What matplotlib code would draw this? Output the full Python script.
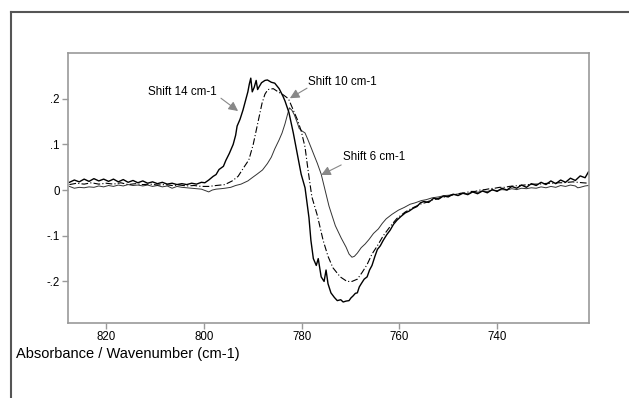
import matplotlib
matplotlib.use("Agg")
import matplotlib.pyplot as plt
from matplotlib.lines import Line2D

plt.rcParams['font.family'] = ['Liberation Sans', 'DejaVu Sans']

# Shift 14 cm-1 (thick solid)
wn_14 = [827.5, 826.5, 825.5, 824.5, 823.5, 822.5, 821.5, 820.5, 819.5, 818.5,
         817.5, 816.5, 815.5, 814.5, 813.5, 812.5, 811.5, 810.5, 809.5, 808.5,
         807.5, 806.5, 805.5, 804.5, 803.5, 802.5, 801.5, 800.5, 799.8, 799.0,
         798.1, 797.5, 796.9, 796.0, 795.5, 794.8, 794.0, 793.5, 793.2, 792.6,
         792.0, 791.5, 791.0, 790.7, 790.4, 790.1, 789.7, 789.3, 789.0, 788.7,
         788.2, 787.5, 787.0, 786.2, 785.5, 784.6, 783.8, 783.4, 782.6, 781.7,
         780.9, 780.1, 779.3, 778.5, 778.1, 777.6, 777.0, 776.6, 776.0, 775.4,
         775.0, 774.6, 774.0, 773.3, 772.7, 772.0, 771.5, 770.9, 770.3, 769.9,
         769.5, 769.0, 768.6, 768.2, 767.8, 767.2, 766.6, 766.1, 765.6, 765.0,
         764.5, 763.9, 763.3, 762.6, 761.9, 761.2, 760.5, 759.7, 758.8, 758.0,
         757.2, 756.4, 755.7, 755.0, 754.0, 753.0, 752.0, 751.0, 750.0, 749.0,
         748.0, 747.0, 746.0, 745.0, 744.0, 743.0, 742.0, 741.0, 740.0, 739.0,
         738.0, 737.0, 736.0, 735.0, 734.0, 733.0, 732.0, 731.0, 730.0, 729.0,
         728.0, 727.0, 726.0, 725.0, 724.0, 723.0, 722.0, 721.3]
abs_14 = [0.017, 0.022, 0.018, 0.024, 0.019, 0.025, 0.020, 0.024, 0.019, 0.024,
          0.018, 0.023, 0.017, 0.021, 0.016, 0.020, 0.015, 0.018, 0.014, 0.017,
          0.013, 0.015, 0.012, 0.014, 0.012, 0.015, 0.013, 0.017, 0.016, 0.022,
          0.030, 0.034, 0.045, 0.052, 0.065, 0.080, 0.100, 0.120, 0.140, 0.155,
          0.175, 0.195, 0.215, 0.232, 0.245, 0.215, 0.225, 0.240, 0.220, 0.226,
          0.235, 0.240, 0.241, 0.236, 0.234, 0.222, 0.205, 0.195, 0.170, 0.125,
          0.080, 0.035, 0.005, -0.060, -0.110, -0.150, -0.165, -0.150, -0.190, -0.200,
          -0.175, -0.205, -0.225, -0.235, -0.242, -0.240, -0.245, -0.243, -0.242, -0.236,
          -0.232, -0.226, -0.225, -0.212, -0.205, -0.195, -0.190, -0.175, -0.165, -0.145,
          -0.130, -0.122, -0.110, -0.098, -0.088, -0.075, -0.066, -0.058, -0.050, -0.046,
          -0.040, -0.036, -0.028, -0.025, -0.027, -0.018, -0.020, -0.013, -0.015, -0.009,
          -0.012, -0.007, -0.010, -0.004, -0.008, -0.002, -0.006, 0.001, -0.003, 0.004,
          0.000, 0.008, 0.004, 0.011, 0.006, 0.014, 0.010, 0.017, 0.012, 0.020,
          0.014, 0.022, 0.017, 0.026, 0.021, 0.031, 0.027, 0.040]

# Shift 10 cm-1 (dash-dot)
wn_10 = [827.5, 826.0, 824.5, 823.0, 821.5, 820.0, 818.5, 817.0, 815.5, 814.0,
         812.5, 811.0, 809.5, 808.0, 806.5, 805.0, 803.5, 802.0, 800.5, 799.0,
         797.5, 795.7, 794.2, 793.0, 791.8, 790.8, 789.9, 789.3, 788.7, 788.1,
         787.5, 786.9, 785.8, 784.8, 783.7, 782.7, 781.7, 780.9, 780.1, 779.3,
         778.7, 777.9, 776.8, 775.6, 774.6, 773.6, 772.1, 770.7, 769.7, 768.6,
         767.6, 766.6, 765.6, 764.5, 763.3, 761.9, 760.5, 758.8, 757.5, 756.5,
         755.5, 754.5, 753.5, 752.5, 751.5, 750.5, 749.5, 748.5, 747.5, 746.5,
         745.5, 744.5, 743.5, 742.5, 741.5, 740.5, 739.5, 738.5, 737.5, 736.5,
         735.5, 734.5, 733.5, 732.5, 731.5, 730.5, 729.5, 728.5, 727.5, 726.5,
         725.5, 724.5, 723.5, 722.5, 721.3]
abs_10 = [0.012, 0.015, 0.013, 0.016, 0.013, 0.015, 0.013, 0.016, 0.012, 0.014,
          0.012, 0.013, 0.011, 0.012, 0.010, 0.011, 0.009, 0.010, 0.008, 0.008,
          0.010, 0.012, 0.020, 0.030, 0.050, 0.066, 0.100, 0.130, 0.160, 0.190,
          0.210, 0.220, 0.222, 0.215, 0.208, 0.200, 0.175, 0.155, 0.130, 0.094,
          0.045, -0.015, -0.055, -0.110, -0.145, -0.170, -0.190, -0.200, -0.200, -0.195,
          -0.180, -0.163, -0.140, -0.122, -0.100, -0.080, -0.062, -0.048, -0.040, -0.035,
          -0.030, -0.027, -0.022, -0.020, -0.016, -0.015, -0.011, -0.010, -0.007, -0.006,
          -0.003, -0.003, 0.000, 0.001, 0.003, 0.004, 0.006, 0.006, 0.008, 0.009,
          0.010, 0.011, 0.012, 0.013, 0.013, 0.014, 0.015, 0.015, 0.016, 0.016,
          0.017, 0.018, 0.017, 0.016, 0.015]

# Shift 6 cm-1 (thin solid)
wn_6 = [827.5, 826.5, 825.5, 824.5, 823.5, 822.5, 821.5, 820.5, 819.5, 818.5,
        817.5, 816.5, 815.5, 814.5, 813.5, 812.5, 811.5, 810.5, 809.5, 808.5,
        807.5, 806.5, 805.5, 804.5, 803.5, 802.5, 801.5, 800.5, 799.5, 799.0,
        798.3, 797.5, 796.5, 795.7, 794.5, 793.5, 792.4, 791.0, 790.0, 789.1,
        788.0, 787.0, 786.2, 785.5, 784.6, 784.0, 783.4, 782.9, 782.5, 782.0,
        781.5, 780.9, 780.5, 780.0, 779.3, 778.7, 778.1, 777.4, 776.8, 776.0,
        775.2, 774.4, 773.8, 773.1, 771.9, 770.9, 770.3, 769.7, 769.2, 768.6,
        767.8, 767.0, 766.2, 765.3, 764.3, 763.5, 762.7, 761.5, 760.2, 759.0,
        757.8, 756.8, 755.5, 754.5, 753.3, 752.0, 750.8, 749.5, 748.3, 747.0,
        746.0, 745.0, 744.0, 743.0, 742.0, 741.0, 740.0, 739.0, 738.0, 737.0,
        736.0, 735.0, 734.0, 733.0, 732.0, 731.0, 730.0, 729.0, 728.0, 727.0,
        726.0, 725.0, 724.0, 723.5, 723.0, 722.0, 721.3]
abs_6 = [0.008, 0.004, 0.006, 0.005, 0.007, 0.006, 0.009, 0.007, 0.010, 0.008,
         0.011, 0.009, 0.012, 0.010, 0.011, 0.009, 0.011, 0.008, 0.010, 0.007,
         0.009, 0.004, 0.008, 0.006, 0.005, 0.004, 0.003, 0.002, -0.002, -0.004,
         0.000, 0.002, 0.003, 0.004, 0.006, 0.010, 0.013, 0.020, 0.028, 0.035,
         0.044, 0.058, 0.072, 0.090, 0.110, 0.125, 0.145, 0.165, 0.180, 0.175,
         0.165, 0.148, 0.135, 0.130, 0.125, 0.110, 0.094, 0.075, 0.059, 0.035,
         0.000, -0.035, -0.055, -0.078, -0.105, -0.125, -0.140, -0.147, -0.145, -0.138,
         -0.126, -0.118, -0.108, -0.095, -0.085, -0.073, -0.063, -0.053, -0.044, -0.038,
         -0.031, -0.028, -0.023, -0.021, -0.017, -0.015, -0.012, -0.011, -0.009, -0.007,
         -0.008, -0.004, -0.005, -0.002, -0.003, 0.000, -0.001, 0.001, 0.000, 0.003,
         0.001, 0.004, 0.003, 0.005, 0.004, 0.007, 0.005, 0.008, 0.006, 0.010,
         0.008, 0.011, 0.009, 0.005, 0.006, 0.009, 0.010]

x_ticks = [820, 800, 780, 760, 740]
y_ticks = [-0.2, -0.1, 0, 0.1, 0.2]
y_tick_labels = ["-.2", "-.1", "0", ".1", ".2"]

fig = plt.figure(figsize=(6.29, 3.98), dpi=100)
ax = fig.add_axes([0.1081, 0.1884, 0.8283, 0.6784])

ax.plot(wn_6, abs_6, color="#333333", lw=0.7)
ax.plot(wn_10, abs_10, color="black", lw=0.8, linestyle=(0, (6, 2, 1, 2)))
ax.plot(wn_14, abs_14, color="black", lw=1.0)

ax.set_xlim(827.8, 721.2)
ax.set_ylim(-0.291, 0.30)
ax.set_xticks(x_ticks)
ax.set_yticks(y_ticks)
ax.set_yticklabels(y_tick_labels)
ax.tick_params(direction="out", length=4, width=1, color="#999999",
               labelsize=8.3, pad=2)
for s in ax.spines.values():
    s.set_color("#999999")
    s.set_linewidth(1.2)

arrow = dict(arrowstyle="-|>", color="#888888", lw=0.8, mutation_scale=14,
             shrinkA=0, shrinkB=0)
ax.annotate("", xy=(793.0, 0.173), xytext=(796.5, 0.201), arrowprops=arrow)
ax.text(811.4, 0.214, "Shift 14 cm-1", fontsize=8.4, va="center")
ax.annotate("", xy=(782.4, 0.201), xytext=(778.9, 0.223), arrowprops=arrow)
ax.text(778.7, 0.236, "Shift 10 cm-1", fontsize=8.4, va="center")
ax.annotate("", xy=(776.0, 0.033), xytext=(771.9, 0.055), arrowprops=arrow)
ax.text(771.5, 0.072, "Shift 6 cm-1", fontsize=8.4, va="center")

fig.text(16 / 629, 1 - 354 / 398, "Absorbance / Wavenumber (cm-1)",
         fontsize=10.5, va="center", ha="left")

# outer frame (left and top edges)
fig.add_artist(Line2D([11 / 629, 11 / 629], [0, 1 - 12 / 398],
                      transform=fig.transFigure, color="#555555", lw=1.5))
fig.add_artist(Line2D([11 / 629, 1], [1 - 12 / 398, 1 - 12 / 398],
                      transform=fig.transFigure, color="#555555", lw=1.5))

fig.savefig("out.png", dpi=100)
